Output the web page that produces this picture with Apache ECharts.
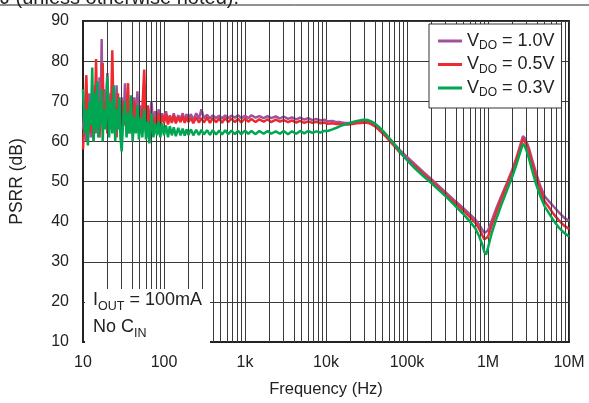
<!DOCTYPE html>
<html>
<head>
<meta charset="utf-8">
<script src="https://cdn.jsdelivr.net/npm/echarts@6/dist/echarts.min.js"></script>
<style>
  html, body { margin: 0; padding: 0; background: #fff; }
  #chart { width: 589px; height: 403px; }
</style>
</head>
<body>
<div id="chart"></div>
<script>
(function () {
    'use strict';

    // frequency points (Hz), shared by all three curves
    var freqs = [
        10, 10.5, 11, 11.5, 12, 12.5, 13, 13.5, 14, 14.5,
        15, 15.5, 16, 16.5, 17, 17.5, 18, 19, 20, 21,
        22, 23, 24, 25, 26, 27, 28, 29, 30, 31.5,
        33, 34.5, 36, 37.5, 39, 41, 43, 45, 47, 49,
        51, 54, 57, 60, 63, 66, 70, 74, 78, 82,
        86, 90, 95, 100, 106, 112, 118, 125, 132, 140,
        150, 160, 170, 180, 190, 200, 215, 230, 250, 270,
        290, 310, 340, 370, 400, 440, 480, 520, 570, 620,
        680, 750, 820, 900, 1000, 1100, 1200, 1350, 1500, 1700,
        1900, 2100, 2400, 2700, 3000, 3400, 3800, 4300, 4800, 5400,
        6000, 6800, 7600, 8500, 9500, 10500, 12000, 13500, 15000, 17000,
        19000, 21000, 24000, 27000, 30000, 33000, 36000, 40000, 45000, 50000,
        56000, 63000, 70000, 80000, 90000, 100000, 125000, 160000, 200000, 250000,
        320000, 400000, 500000, 600000, 700000, 780000, 850000, 900000, 950000, 1000000,
        1100000, 1250000, 1450000, 1700000, 2000000, 2250000, 2500000, 2700000, 2850000, 3000000,
        3200000, 3500000, 3900000, 4400000, 5000000, 5700000, 6500000, 7500000, 8700000, 10000000
    ];

    // PSRR (dB), VDO = 1.0V
    var psrr10 = [
        63, 70, 60, 66, 72, 61, 69, 64, 74, 62,
        71, 63, 76, 66, 85.5, 64, 73, 68, 77, 63,
        72, 65, 70, 64, 74, 63, 69, 65, 71, 64,
        74.5, 64, 70, 63, 68, 65, 71, 64, 72.5, 65,
        69, 64, 71, 63, 68, 65, 70, 64, 67.5, 65,
        68, 64.5, 67, 65, 67.5, 64.5, 66.5, 65, 67, 65,
        66.5, 65.5, 67, 65.2, 66.8, 65.5, 66.8, 65.3, 67, 65.6,
        68, 65.8, 66.6, 65.7, 66.5, 65.8, 66.4, 65.7, 66.5, 65.8,
        66.4, 65.9, 66.5, 65.8, 66.4, 65.8, 66.5, 65.9, 66.3, 65.8,
        66.3, 65.8, 66.2, 65.7, 66.2, 65.6, 66.0, 65.5, 65.9, 65.4,
        65.8, 65.3, 65.6, 65.2, 65.4, 65.0, 65.1, 64.8, 64.8, 64.6,
        64.6, 64.6, 64.7, 64.8, 64.9, 64.9, 64.7, 64.2, 63.3, 62.4,
        61.4, 60.3, 59.3, 58.0, 57.0, 56.1, 54.3, 52.3, 50.6, 48.8,
        46.8, 45.0, 43.3, 41.8, 40.5, 39.2, 38.0, 37.2, 37.1, 37.8,
        40.0, 43.0, 46.2, 49.5, 53.0, 56.0, 59.0, 61.3, 60.8, 59.8,
        58.3, 55.5, 52.3, 49.0, 46.3, 45.0, 43.7, 42.3, 41.0, 40.2
    ];

    // PSRR (dB), VDO = 0.5V
    var psrr05 = [
        58, 66, 76.5, 61, 69, 62, 72, 60, 67, 80.5,
        63, 70, 61, 68, 66, 79.5, 64, 70, 62, 68,
        64, 82.7, 63, 69, 61, 72, 64, 67, 62, 70,
        64, 68, 74.5, 62, 68, 64, 70, 63, 66, 65,
        64, 68, 77.9, 62, 69, 64, 67, 63, 66, 64,
        67, 64, 66.5, 64.5, 66.8, 64.2, 66.2, 64.6, 66.5, 64.5,
        66, 64.8, 66.3, 64.6, 66, 64.8, 65.8, 64.5, 66, 64.7,
        65.8, 64.7, 65.9, 64.6, 65.8, 64.8, 65.7, 64.6, 65.8, 64.8,
        65.7, 64.8, 65.6, 64.7, 65.7, 64.9, 65.6, 64.8, 65.5, 64.9,
        65.5, 64.8, 65.4, 64.9, 65.3, 64.8, 65.2, 64.7, 65.1, 64.6,
        65.0, 64.6, 64.9, 64.5, 64.7, 64.4, 64.5, 64.3, 64.3, 64.2,
        64.2, 64.3, 64.5, 64.6, 64.7, 64.6, 64.3, 63.8, 62.9, 62.0,
        61.0, 59.8, 58.8, 57.4, 56.4, 55.5, 53.8, 51.8, 50.1, 48.3,
        46.3, 44.5, 42.7, 41.1, 39.7, 38.2, 36.6, 35.6, 35.4, 36.2,
        38.8, 42.0, 45.5, 49.0, 52.5, 55.5, 58.5, 60.6, 60.2, 59.2,
        57.5, 54.5, 51.3, 48.0, 45.0, 43.5, 41.8, 40.3, 39.0, 38.2
    ];

    // PSRR (dB), VDO = 0.3V
    var psrr03 = [
        73, 62, 68, 59, 70, 64, 78.4, 60, 72, 63,
        75, 61, 70, 64, 73, 60, 68, 63, 76.2, 61,
        70, 62, 74, 60, 68, 63, 71, 61, 57.5, 66,
        70, 61, 67, 62, 71.5, 60, 66, 62, 69, 60.5,
        66, 61, 68, 60.5, 65, 59.5, 67, 61, 64.5, 61.5,
        65, 61, 64.5, 61.5, 64, 61, 63.8, 61.5, 63.5, 61.3,
        63.4, 61.5, 63.2, 61.4, 63.0, 61.6, 63.0, 61.5, 62.9, 61.6,
        62.9, 61.7, 62.8, 61.6, 62.8, 61.7, 62.7, 61.7, 62.8, 61.8,
        62.7, 61.8, 62.6, 61.8, 62.7, 61.9, 62.6, 61.8, 62.6, 61.9,
        62.6, 61.9, 62.5, 61.9, 62.6, 61.8, 62.5, 61.9, 62.6, 62.0,
        62.6, 62.1, 62.5, 62.2, 62.6, 62.6, 63.0, 63.4, 63.8, 64.2,
        64.5, 64.8, 65.1, 65.3, 65.4, 65.3, 65.0, 64.5, 63.6, 62.7,
        61.6, 60.4, 59.2, 57.7, 56.4, 55.3, 53.3, 51.3, 49.6, 47.8,
        45.8, 43.8, 41.8, 40.0, 38.3, 36.3, 34.3, 32.5, 31.8, 33.5,
        36.8, 40.3, 44.0, 47.6, 51.3, 54.3, 57.3, 59.4, 58.8, 57.6,
        55.8, 52.8, 49.5, 46.5, 43.8, 42.0, 40.2, 38.5, 37.2, 36.3
    ];

    var vdoLabels = ['1.0V', '0.5V', '0.3V'];
    var colors = ['#a3509c', '#ee2a2f', '#00a651'];
    var xTickLabels = { 10: '10', 100: '100', 1000: '1k', 10000: '10k', 100000: '100k', 1000000: '1M', 10000000: '10M' };

    var font = 'Liberation Sans, Arial, Helvetica, sans-serif';

    function pairs(vals) {
        return freqs.map(function (f, i) { return [f, vals[i]]; });
    }

    // minor log grid lines 20..90, 200..900, ...
    var minorLines = [];
    for (var d = 10; d < 1e7; d *= 10) {
        for (var m = 2; m <= 9; m++) {
            minorLines.push({ xAxis: d * m });
        }
    }

    var chart = echarts.init(document.getElementById('chart'));

    var curves = [psrr10, psrr05, psrr03].map(function (vals, i) {
        return {
            name: vdoLabels[i],
            type: 'line',
            data: pairs(vals),
            symbol: 'none',
            showSymbol: false,
            z: 3 + i,
            lineStyle: { color: colors[i], width: 2.5 },
            itemStyle: { color: colors[i] },
            animation: false
        };
    });

    curves.unshift({
        name: 'grid',
        type: 'line',
        data: [],
        z: 1,
        silent: true,
        animation: false,
        markLine: {
            silent: true,
            symbol: ['none', 'none'],
            label: { show: false },
            lineStyle: { color: '#3a3a3a', width: 1, type: 'solid' },
            data: minorLines,
            animation: false
        }
    });

    chart.setOption({
        animation: false,
        textStyle: { fontFamily: font },
        grid: {
            left: 83, right: 20, top: 21, bottom: 54,
            show: true, borderColor: '#222', borderWidth: 2, backgroundColor: '#fff'
        },
        xAxis: {
            type: 'log',
            logBase: 10,
            min: 10,
            max: 1e7,
            name: 'Frequency (Hz)',
            nameLocation: 'middle',
            nameGap: 39,
            nameTextStyle: { fontSize: 16.5, color: '#222', fontFamily: font },
            axisLine: { lineStyle: { color: '#222', width: 2 } },
            axisTick: { show: false },
            axisLabel: {
                fontSize: 16, color: '#222', margin: 13, fontFamily: font,
                formatter: function (v) { return xTickLabels[Math.round(v)] || ''; }
            },
            splitLine: { show: true, lineStyle: { color: '#3a3a3a', width: 1 } }
        },
        yAxis: {
            type: 'value',
            min: 10,
            max: 90,
            interval: 10,
            name: 'PSRR (dB)',
            nameLocation: 'middle',
            nameGap: 57,
            nameTextStyle: { fontSize: 17.5, color: '#222', fontFamily: font },
            axisLine: { show: true, lineStyle: { color: '#222', width: 2 } },
            axisTick: { show: false },
            axisLabel: { fontSize: 16, color: '#222', margin: 14, fontFamily: font },
            splitLine: { show: true, lineStyle: { color: '#3a3a3a', width: 1 } }
        },
        legend: {
            data: vdoLabels,
            orient: 'vertical',
            left: 429,
            top: 24,
            z: 50,
            padding: [8, 7, 9, 9],
            itemGap: 3.5,
            itemWidth: 24,
            itemHeight: 3,
            icon: 'rect',
            backgroundColor: '#fff',
            borderColor: '#333',
            borderWidth: 1,
            borderRadius: 0,
            formatter: function (name) {
                return '{v|V}{s|DO}{v| = ' + name + '}';
            },
            textStyle: {
                color: '#222',
                rich: {
                    v: { fontSize: 18, lineHeight: 22, fontFamily: font, color: '#222', verticalAlign: 'middle' },
                    s: { fontSize: 12, lineHeight: 12, fontFamily: font, color: '#222', verticalAlign: 'bottom' }
                }
            }
        },
        graphic: [
            {
                type: 'text',
                x: 0,
                y: -12,
                z: 100,
                style: { text: 'J (unless otherwise noted).', font: '20px "Liberation Sans", Arial, sans-serif', fill: '#222' }
            },
            {
                type: 'line',
                z: 99,
                shape: { x1: 0, y1: 5, x2: 589, y2: 5 },
                style: { stroke: '#222', lineWidth: 1 }
            },
            {
                type: 'rect',
                left: 85,
                top: 289,
                z: 100,
                shape: { width: 125, height: 58 },
                style: { fill: '#fff' }
            },
            {
                type: 'text',
                left: 93,
                top: 291,
                z: 101,
                style: {
                    text: '{v|I}{s|OUT}{v| = 100mA}\n{v|No C}{s|IN}',
                    fill: '#222',
                    rich: {
                        v: { fontSize: 18, lineHeight: 27, fontFamily: font, fill: '#222', verticalAlign: 'middle' },
                        s: { fontSize: 12.5, lineHeight: 15, fontFamily: font, fill: '#222', verticalAlign: 'bottom' }
                    }
                }
            }
        ],
        series: curves
    });
})();
</script>
</body>
</html>
